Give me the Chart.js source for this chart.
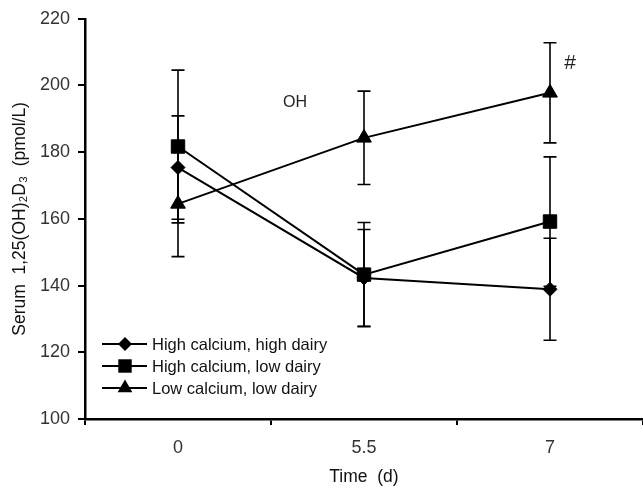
<!DOCTYPE html>
<html>
<head>
<meta charset="utf-8">
<script src="https://cdn.jsdelivr.net/npm/chart.js"></script>
<style>
  html, body { margin: 0; padding: 0; background: #fff; overflow: hidden; }
  canvas { display: block; }
</style>
</head>
<body>
<canvas id="myChart" width="643" height="488"></canvas>
<script>
// days on study (category axis)
const categories = ['0', '5.5', '7'];
const yTicks = [100, 120, 140, 160, 180, 200, 220];

const seriesNames = ['High calcium, high dairy', 'High calcium, low dairy', 'Low calcium, low dairy'];
const highCalHighDairy = [175.4, 142.3, 138.9];
const highCalHighDairyErr = [15.5, 14.5, 15.3];
const highCalLowDairy = [181.7, 143.3, 159.2];
const highCalLowDairyErr = [22.9, 15.6, 19.4];
const lowCalLowDairy = [164.5, 184.3, 197.8];
const lowCalLowDairyErr = [15.8, 14.0, 15.0];

const FONT = '"Liberation Sans", Arial, sans-serif';
const INK = '#111';

function makeSet(label, data, err, style, radius) {
  return {
    label: label,
    data: data,
    err: err,
    borderColor: '#000',
    backgroundColor: '#000',
    borderWidth: 2,
    pointStyle: style,
    pointRadius: radius,
    pointHoverRadius: radius,
    pointBorderWidth: 1,
    tension: 0
  };
}

// vertical error bars with caps
const errorBars = {
  id: 'errorBars',
  beforeDatasetsDraw(chart) {
    const { ctx, scales: { x, y } } = chart;
    ctx.save();
    ctx.strokeStyle = '#000';
    ctx.lineWidth = 1.6;
    chart.data.datasets.forEach(ds => {
      ds.data.forEach((v, j) => {
        const px = x.getPixelForValue(j);
        const top = y.getPixelForValue(v + ds.err[j]);
        const bot = y.getPixelForValue(v - ds.err[j]);
        ctx.beginPath();
        ctx.moveTo(px, top); ctx.lineTo(px, bot);
        ctx.moveTo(px - 6.5, top); ctx.lineTo(px + 6.5, top);
        ctx.moveTo(px - 6.5, bot); ctx.lineTo(px + 6.5, bot);
        ctx.stroke();
      });
    });
    ctx.restore();
  }
};

function marker(ctx, style, r, x, y) {
  ctx.beginPath();
  if (style === 'rect') {
    const s = Math.SQRT1_2 * r;
    ctx.rect(x - s, y - s, 2 * s, 2 * s);
  } else if (style === 'rectRot') {
    ctx.moveTo(x, y - r); ctx.lineTo(x + r, y); ctx.lineTo(x, y + r); ctx.lineTo(x - r, y);
    ctx.closePath();
  } else {
    const w = r * Math.sqrt(3) / 2;
    ctx.moveTo(x, y - r); ctx.lineTo(x + w, y + r / 2); ctx.lineTo(x - w, y + r / 2);
    ctx.closePath();
  }
  ctx.fill();
}

// legend inside plot + stray labels
const insideLegend = {
  id: 'insideLegend',
  afterDraw(chart) {
    const { ctx, chartArea } = chart;
    ctx.save();
    ctx.fillStyle = '#000';
    ctx.strokeStyle = '#000';
    ctx.lineWidth = 2;
    ctx.font = '16.5px ' + FONT;
    ctx.textBaseline = 'middle';
    chart.data.datasets.forEach((ds, i) => {
      const ly = chartArea.bottom - 75 + i * 22;
      const lx = chartArea.left + 17;
      ctx.beginPath();
      ctx.moveTo(lx, ly); ctx.lineTo(lx + 45, ly);
      ctx.stroke();
      marker(ctx, ds.pointStyle, ds.pointRadius, lx + 23, ly);
      ctx.fillStyle = INK;
      ctx.fillText(ds.label, lx + 50, ly + 1);
      ctx.fillStyle = '#000';
    });
    const { x, y } = chart.scales;
    ctx.font = '16px ' + FONT;
    ctx.fillStyle = '#222';
    ctx.textAlign = 'center';
    ctx.fillText('OH', x.getPixelForValue(1) - 69, y.getPixelForValue(194.8));
    ctx.font = '21px ' + FONT;
    ctx.fillText('#', x.getPixelForValue(2) + 20, y.getPixelForValue(206.7));
    ctx.restore();
  }
};

new Chart(document.getElementById('myChart'), {
  type: 'line',
  data: {
    labels: categories,
    datasets: [
      makeSet(seriesNames[0], highCalHighDairy, highCalHighDairyErr, 'rectRot', 7),
      makeSet(seriesNames[1], highCalLowDairy, highCalLowDairyErr, 'rect', 9.5),
      makeSet(seriesNames[2], lowCalLowDairy, lowCalLowDairyErr, 'triangle', 8.5)
    ]
  },
  options: {
    responsive: false,
    animation: false,
    layout: { autoPadding: false, padding: { top: 18, right: 0, left: 0, bottom: 0 } },
    plugins: {
      legend: { display: false },
      tooltip: { enabled: false }
    },
    scales: {
      x: {
        type: 'category',
        offset: true,
        afterFit(scale) { scale.height = 69; },
        grid: { offset: true, drawOnChartArea: false, tickLength: 6, color: '#000', lineWidth: 2 },
        border: { color: '#000', width: 2.5 },
        ticks: { color: '#333', font: { family: FONT, size: 18 }, padding: 12 },
        title: { display: true, text: 'Time  (d)', color: INK, font: { family: FONT, size: 17.5 }, padding: { top: 0, bottom: 0 } }
      },
      y: {
        min: 100,
        max: 220,
        afterFit(scale) { scale.width = 85; },
        afterBuildTicks(scale) { scale.ticks = yTicks.map(v => ({ value: v })); },
        grid: { drawOnChartArea: false, tickLength: 7, color: '#000', lineWidth: 2 },
        border: { color: '#000', width: 2.5 },
        ticks: { color: '#333', font: { family: FONT, size: 18 }, padding: 8 },
        title: { display: true, text: 'Serum  1,25(OH)\u2082D\u2083  (pmol/L)', color: INK, font: { family: FONT, size: 17.5 }, padding: { top: 10, bottom: 0 } }
      }
    }
  },
  plugins: [errorBars, insideLegend]
});
</script>
</body>
</html>
